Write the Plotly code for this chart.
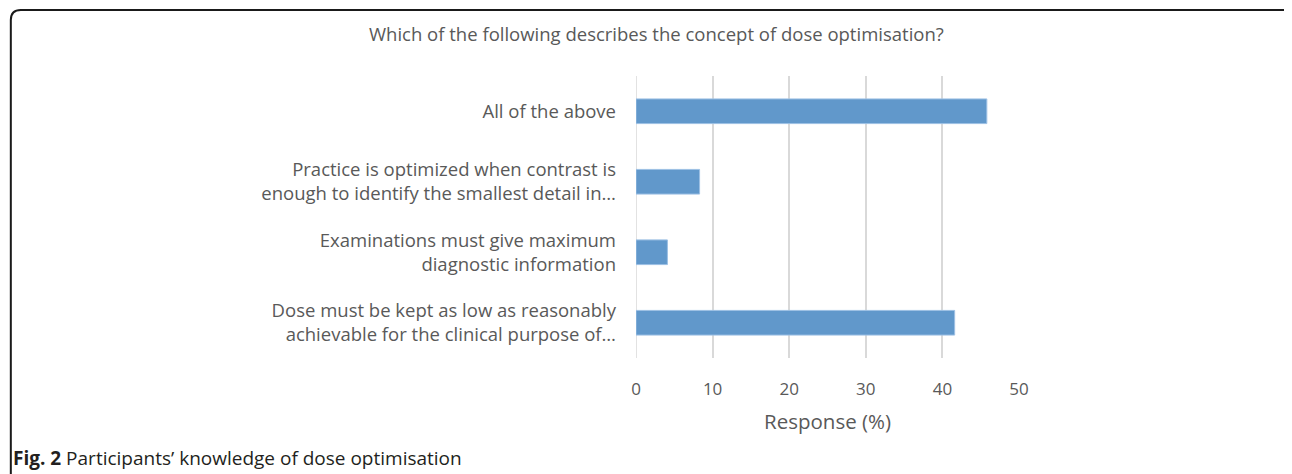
import plotly.graph_objects as go

categories = [
    "Dose must be kept as low as reasonably<br>achievable for the clinical purpose of…",
    "Examinations must give maximum<br>diagnostic information",
    "Practice is optimized when contrast is<br>enough to identify the smallest detail in…",
    "All of the above",
]
values = [41.6, 4.1, 8.3, 45.8]
x_ticks = [0, 10, 20, 30, 40, 50]

# page body has an 8px margin, so work in page pixels shifted by 8
OFF = 8
W, H = 1292 - OFF, 474 - OFF
L, R, T, B = 636 - OFF, 1019.5 - OFF, 76 - OFF, 358 - OFF
FONT = "Open Sans"
GREY = "#595959"

def px(x):
    return (x - OFF - L) / (R - L)

def py(y):
    return (B - (y - OFF)) / (B - T)

fig = go.Figure(go.Bar(
    y=categories, x=values, orientation="h",
    marker=dict(color="#6198CB", line=dict(color="#9DC0E4", width=1)),
    width=0.35,
))

fig.update_layout(
    width=W, height=H,
    margin=dict(l=L, r=W - R, t=T, b=H - B),
    paper_bgcolor="white", plot_bgcolor="white",
    showlegend=False,
    font=dict(family=FONT, color=GREY, size=18),
    xaxis=dict(range=[0, 50], tickvals=x_ticks, showgrid=True, gridcolor="#D9D9D9",
               gridwidth=1.5, zeroline=False, showline=False,
               tickfont=dict(size=17, color=GREY), ticklabelstandoff=19),
    yaxis=dict(showgrid=False, showline=False, zeroline=False,
               tickfont=dict(size=18.5, color=GREY), ticklabelstandoff=19),
)

fig.add_shape(type="line", xref="x", yref="paper", x0=0, x1=0, y0=0, y1=1,
              line=dict(color="#D9D9D9", width=1.5), layer="below")

fig.add_annotation(text="Which of the following describes the concept of dose optimisation?",
                   xref="paper", yref="paper", x=px(657), y=py(34), showarrow=False,
                   xanchor="center", yanchor="middle", font=dict(size=18.5, color=GREY))
fig.add_annotation(text="Response (%)", xref="paper", yref="paper", x=0.5, y=py(421),
                   showarrow=False, xanchor="center", yanchor="middle",
                   font=dict(size=20.5, color=GREY))
fig.add_annotation(text="<b>Fig. 2</b> Participants’ knowledge of dose optimisation",
                   xref="paper", yref="paper", x=px(10), y=py(458), showarrow=False,
                   xanchor="left", yanchor="middle",
                   font=dict(size=19, color="#231F20", family="Open Sans"))

def P(x, y):
    return f"{px(x):.5f},{py(y):.5f}"
path = (f"M {P(10, 490)} L {P(10, 20)} Q {P(10, 10)} {P(20, 10)} "
        f"L {P(1284, 10)} Q {P(1290, 10)} {P(1294, 16)}")
fig.add_shape(type="path", xref="paper", yref="paper", path=path,
              line=dict(color="#1A1A1A", width=2))

fig.write_html("out.html")
